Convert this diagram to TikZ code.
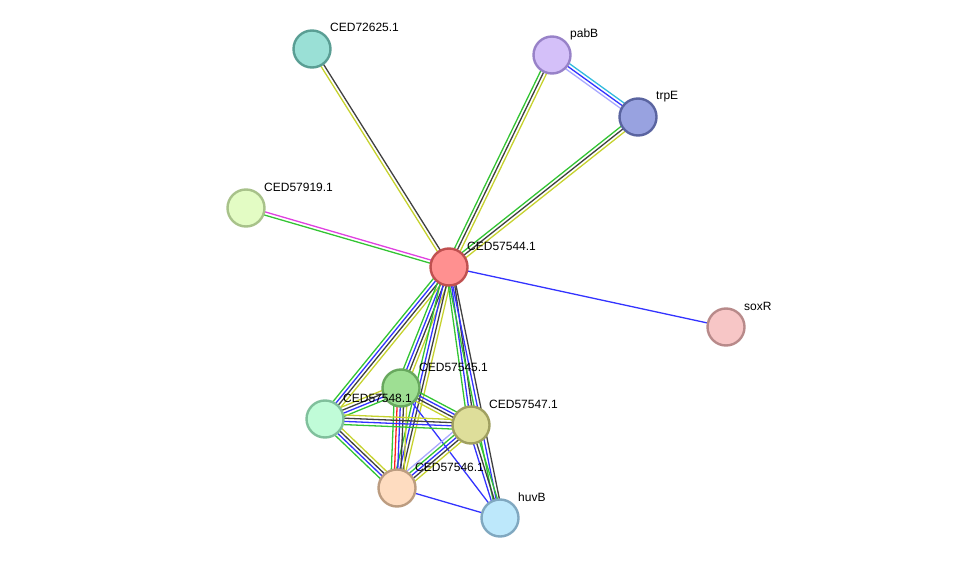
\documentclass[tikz,border=0pt]{standalone}
\usepackage{fontspec}
\setmainfont{Liberation Sans}
\usetikzlibrary{calc}
\pgfdeclarelayer{bg}
\pgfsetlayers{bg,main}
\definecolor{cgreen}{HTML}{33C433}
\definecolor{cyg}{HTML}{C6D22E}
\definecolor{cblack}{HTML}{404040}
\definecolor{cblue}{HTML}{3333FF}
\definecolor{cmag}{HTML}{E040E0}
\definecolor{ccyan}{HTML}{33BBDD}
\definecolor{clav}{HTML}{A8A8FF}
\definecolor{cred}{HTML}{FF2020}
\tikzset{
  prot/.style={circle, minimum size=37pt, inner sep=0pt, line width=2.4pt},
  lab/.style={anchor=base west, font=\fontsize{12pt}{14pt}\selectfont, inner sep=0pt, text=black},
  edgeline/.style={line width=1.3pt},
}
\newcommand\edgebundle[3]{%
  \foreach \o/\c in {#3} {
    \draw[edgeline, draw=\c] ($(#1)!\o pt!90:(#2)$) -- ($(#2)!\o pt!-90:(#1)$);
  }%
}
\begin{document}
\begin{tikzpicture}[x=1pt,y=-1pt]
\useasboundingbox (0,0) rectangle (976,564);
% nodes
\node[prot, fill={rgb,255:red,154;green,224;blue,214}, draw={rgb,255:red,90;green,158;blue,148}] (n72625) at (312,49) {};
\node[prot, fill={rgb,255:red,212;green,192;blue,249}, draw={rgb,255:red,152;green,130;blue,200}] (npabB) at (552,55) {};
\node[prot, fill={rgb,255:red,152;green,162;blue,224}, draw={rgb,255:red,90;green,100;blue,160}] (ntrpE) at (638,117) {};
\node[prot, fill={rgb,255:red,227;green,252;blue,196}, draw={rgb,255:red,168;green,194;blue,138}] (n57919) at (246,208) {};
\node[prot, fill={rgb,255:red,255;green,144;blue,144}, draw={rgb,255:red,192;green,80;blue,80}] (n544) at (449,267) {};
\node[prot, fill={rgb,255:red,247;green,198;blue,198}, draw={rgb,255:red,184;green,138;blue,138}] (nsoxR) at (726,327) {};
\node[prot, fill={rgb,255:red,158;green,223;blue,147}, draw={rgb,255:red,104;green,168;blue,94}] (n545) at (401,388) {};
\node[prot, fill={rgb,255:red,192;green,252;blue,216}, draw={rgb,255:red,128;green,192;blue,156}] (n548) at (325,419) {};
\node[prot, fill={rgb,255:red,222;green,222;blue,154}, draw={rgb,255:red,160;green,160;blue,96}] (n547) at (471,425) {};
\node[prot, fill={rgb,255:red,254;green,220;blue,192}, draw={rgb,255:red,188;green,156;blue,128}] (n546) at (397,488) {};
\node[prot, fill={rgb,255:red,189;green,232;blue,251}, draw={rgb,255:red,128;green,168;blue,192}] (nhuvB) at (500,518) {};
% edges
\begin{pgfonlayer}{bg}
\edgebundle{n544}{n72625}{-1.6/cblack, 1.6/cyg}
\edgebundle{n544}{n57919}{-1.6/cmag, 1.6/cgreen}
\edgebundle{n544}{npabB}{-3.2/cyg, 0/cblack, 3.2/cgreen}
\edgebundle{n544}{ntrpE}{-3.2/cyg, 0/cblack, 3.2/cgreen}
\edgebundle{npabB}{ntrpE}{-3.2/clav, 0/cblue, 3.2/ccyan}
\edgebundle{n544}{nsoxR}{0/cblue}
\edgebundle{n544}{n548}{-4.8/cgreen, -1.6/cblue, 1.6/cblack, 4.8/cyg}
\edgebundle{n544}{n545}{-4.8/cgreen, -1.6/cblue, 1.6/cblack, 4.8/cyg}
\edgebundle{n544}{n546}{-4.8/cgreen, -1.6/cblue, 1.6/cblack, 4.8/cyg}
\edgebundle{n544}{n547}{-3.2/cgreen, 0/cblue, 3.2/cblack}
\edgebundle{n544}{nhuvB}{-3.2/cgreen, 0/cblue, 3.2/cblack}
\edgebundle{n545}{n548}{-4.8/cyg, -1.6/cblack, 1.6/cblue, 4.8/cgreen}
\edgebundle{n545}{n547}{-4.8/cyg, -1.6/cblack, 1.6/cblue, 4.8/cgreen}
\edgebundle{n545}{n546}{-6.4/cgreen, -3.2/cred, 0/cblue, 3.2/cblack, 6.4/cyg}
\edgebundle{n545}{nhuvB}{0/cblue}
\edgebundle{n548}{n547}{-4.8/cgreen, -1.6/cblue, 1.6/cblack, 4.8/cyg}
\edgebundle{n548}{n546}{-4.8/cgreen, -1.6/cblue, 1.6/cblack, 4.8/cyg}
\edgebundle{n547}{n546}{-6.4/clav, -3.2/cgreen, 0/cblue, 3.2/cblack, 6.4/cyg}
\edgebundle{n547}{nhuvB}{-3.2/cblue, 0/cblack, 3.2/cgreen}
\edgebundle{n546}{nhuvB}{0/cblue}
\end{pgfonlayer}
% labels
\node[lab] (l72625) at (330,32) {CED72625.1};
\node[lab] (lpabB) at (570,38) {pabB};
\node[lab] (ltrpE) at (656,100) {trpE};
\node[lab] (l57919) at (264,191) {CED57919.1};
\node[lab] (l544) at (467,250) {CED57544.1};
\node[lab] (lsoxR) at (744,310) {soxR};
\node[lab] (l545) at (419,371) {CED57545.1};
\node[lab] (l548) at (343,402) {CED57548.1};
\node[lab] (l547) at (489,408) {CED57547.1};
\node[lab] (l546) at (415,471) {CED57546.1};
\node[lab] (lhuvB) at (518,501) {huvB};
\end{tikzpicture}
\end{document}
